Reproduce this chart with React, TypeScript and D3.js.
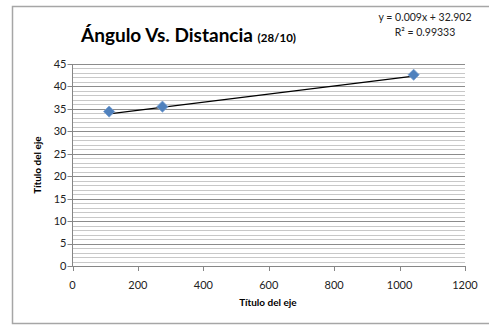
import React from "react";
import * as d3 from "d3";

// Measurements: distance (x) vs. angle (y)
const distances = [112, 275, 1043];
const angles = [34.4, 35.5, 42.6];

// Linear trendline reported by the spreadsheet
const trendSlope = 0.009;
const trendIntercept = 32.902;
const trendR2 = "0.99333";

const xTicks = [0, 200, 400, 600, 800, 1000, 1200];
const yMajorTicks = [0, 5, 10, 15, 20, 25, 30, 35, 40, 45];
const yMinorTicks = d3.range(0, 46, 1);

const titleMain = "Ángulo Vs. Distancia ";
const titleSub = "(28/10)";
const axisTitle = "Título del eje";

const W = 489;
const H = 326;
const plot = { left: 72.5, right: 465, top: 64, bottom: 266 };
const FONT = "Lato, 'Open Sans', sans-serif";

export default function App() {
  const x = d3.scaleLinear().domain([0, 1200]).range([plot.left, plot.right]);
  const y = d3.scaleLinear().domain([0, 45]).range([plot.bottom, plot.top]);

  const xMin = d3.min(distances) as number;
  const xMax = d3.max(distances) as number;
  const trend = d3
    .line<number>()
    .x((d) => x(d))
    .y((d) => y(trendIntercept + trendSlope * d))([xMin, xMax]);

  const diamond = d3.symbol().type(d3.symbolDiamond2).size(80)() as string;

  return (
    <svg
      width={W}
      height={H}
      style={{ position: "absolute", left: 0, top: 0, background: "#fff" }}
      fontFamily={FONT}
    >
      {/* chart area frame */}
      <rect x={12.5} y={6.5} width={490} height={317} fill="#fff" stroke="#a6a6a6" strokeWidth={1.5} />

      {/* minor gridlines */}
      {yMinorTicks.map((t) => (
        <line key={"mn" + t} x1={plot.left} x2={plot.right} y1={Math.round(y(t)) + 0.5} y2={Math.round(y(t)) + 0.5} stroke="#c8c8c8" strokeWidth={1} />
      ))}
      {/* major gridlines */}
      {yMajorTicks.map((t) => (
        <line key={"mj" + t} x1={plot.left} x2={plot.right} y1={Math.round(y(t)) + 0.5} y2={Math.round(y(t)) + 0.5} stroke="#8c8c8c" strokeWidth={1} />
      ))}

      {/* y axis */}
      <line x1={plot.left} x2={plot.left} y1={plot.top} y2={plot.bottom + 0.5} stroke="#868686" />
      {yMajorTicks.map((t) => (
        <g key={"yt" + t}>
          <line x1={plot.left - 5} x2={plot.left} y1={Math.round(y(t)) + 0.5} y2={Math.round(y(t)) + 0.5} stroke="#868686" />
          <text x={plot.left - 6} y={y(t)} dy="0.35em" textAnchor="end" fontSize={11} fill="#222">
            {t}
          </text>
        </g>
      ))}

      {/* x axis */}
      <line x1={plot.left} x2={plot.right} y1={plot.bottom + 0.5} y2={plot.bottom + 0.5} stroke="#868686" />
      {xTicks.map((t) => (
        <g key={"xt" + t}>
          <line x1={Math.round(x(t)) + 0.5} x2={Math.round(x(t)) + 0.5} y1={plot.bottom} y2={plot.bottom + 5} stroke="#868686" />
          <text x={x(t)} y={plot.bottom + 23} textAnchor="middle" fontSize={11} fill="#222">
            {t}
          </text>
        </g>
      ))}

      {/* trendline */}
      <path d={trend ?? ""} fill="none" stroke="#000" strokeWidth={1.3} />

      {/* markers */}
      {distances.map((d, i) => (
        <path key={"pt" + i} d={diamond} transform={`translate(${x(d)},${y(angles[i])})`} fill="#4f81bd" stroke="#7aa1d2" strokeWidth={0.8} />
      ))}

      {/* title */}
      <text x={81} y={42} fontSize={19} fontWeight="bold" fill="#000">
        {titleMain}
        <tspan fontSize={11.5}>{titleSub}</tspan>
      </text>

      {/* trendline equation */}
      <text x={425} y={21} textAnchor="middle" fontSize={10.5} fill="#222">
        {`y = ${trendSlope}x + ${trendIntercept}`}
      </text>
      <text x={425} y={36} textAnchor="middle" fontSize={10.5} fill="#222">
        R² = {trendR2}
      </text>

      {/* axis titles */}
      <text x={268} y={306} textAnchor="middle" fontSize={10} fontWeight="bold" fill="#000">
        {axisTitle}
      </text>
      <text transform={`translate(41,${(plot.top + plot.bottom) / 2}) rotate(-90)`} textAnchor="middle" fontSize={10} fontWeight="bold" fill="#000">
        {axisTitle}
      </text>
    </svg>
  );
}
